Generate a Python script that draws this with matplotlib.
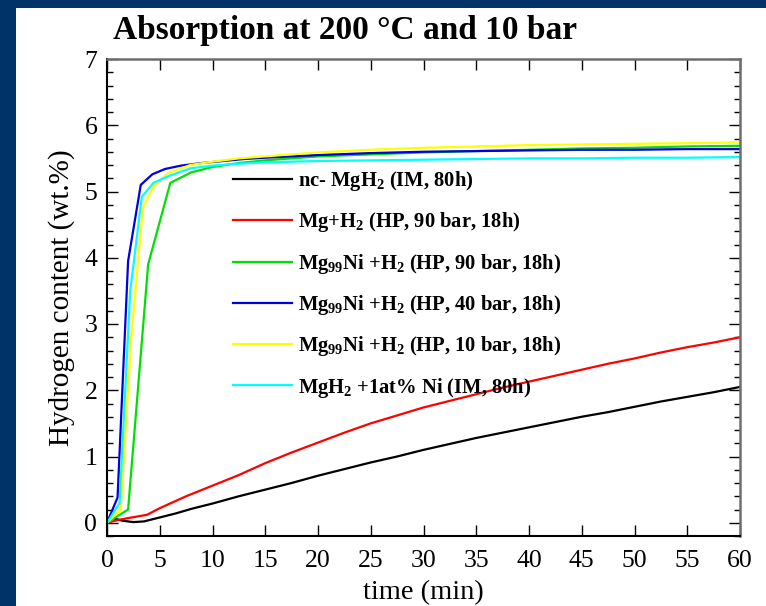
import matplotlib
matplotlib.use("Agg")
import matplotlib.pyplot as plt
from matplotlib.patches import Rectangle
from matplotlib.ticker import MultipleLocator

plt.rcParams["font.family"] = ["Liberation Serif", "DejaVu Serif"]
plt.rcParams["mathtext.fontset"] = "custom"
plt.rcParams["mathtext.rm"] = "Liberation Serif"
plt.rcParams["mathtext.bf"] = "Liberation Serif:bold"

# ---- data: hydrogen uptake (wt.%) versus time (min) ----
t_nc = [0, 0.5, 1.5, 2.5, 3.5, 5, 6.5, 8, 10, 12.5, 15, 17.5, 20, 22.5, 25, 27.5,
        30, 32.5, 35, 37.5, 40, 42.5, 45, 47.5, 50, 52.5, 55, 57.5, 60]
h_nc = [0.0, 0.07, 0.03, 0.01, 0.02, 0.08, 0.14, 0.21, 0.29, 0.40, 0.50, 0.60, 0.71,
        0.81, 0.91, 1.00, 1.10, 1.19, 1.28, 1.36, 1.44, 1.52, 1.60, 1.67, 1.75, 1.83,
        1.90, 1.97, 2.05]

t_mg = [0, 1, 2, 3.8, 5, 7.5, 10, 12.5, 15, 17.5, 20, 22.5, 25, 27.5, 30, 32.5, 35,
        37.5, 40, 42.5, 45, 47.5, 50, 52.5, 55, 57.5, 60]
h_mg = [0.0, 0.04, 0.07, 0.12, 0.22, 0.40, 0.56, 0.72, 0.90, 1.06, 1.21, 1.36, 1.50,
        1.62, 1.74, 1.84, 1.94, 2.04, 2.13, 2.22, 2.31, 2.40, 2.48, 2.57, 2.65, 2.72,
        2.80]

t_ni90 = [0, 1, 2, 3.9, 6, 8, 10, 12.5, 15, 17.5, 20, 25, 30, 35, 40, 45, 50, 55, 60]
h_ni90 = [0.0, 0.1, 0.2, 3.9, 5.13, 5.29, 5.37, 5.43, 5.47, 5.50, 5.53, 5.56, 5.59,
          5.61, 5.63, 5.65, 5.66, 5.68, 5.69]

t_ni40 = [0, 1, 2, 3.2, 4.3, 5.5, 7, 9, 11, 13, 15, 17.5, 20, 25, 30, 35, 40, 45,
          50, 55, 60]
h_ni40 = [0.0, 0.38, 3.95, 5.10, 5.26, 5.34, 5.39, 5.43, 5.46, 5.49, 5.51, 5.53,
          5.55, 5.58, 5.60, 5.61, 5.62, 5.63, 5.63, 5.64, 5.64]

t_ni10 = [0, 1.3, 2.3, 3.4, 4.4, 5.8, 7.9, 10, 12.5, 15, 17.5, 20, 25, 30, 35, 40,
          45, 50, 55, 60]
h_ni10 = [0.0, 0.2, 2.8, 4.75, 5.07, 5.28, 5.40, 5.45, 5.50, 5.53, 5.56, 5.59, 5.63,
          5.66, 5.68, 5.70, 5.71, 5.72, 5.73, 5.74]

t_im = [0, 1.2, 2.2, 3.3, 4.4, 5.8, 7.9, 10, 12.5, 15, 17.5, 20, 25, 30, 35, 40, 45,
        50, 55, 60]
h_im = [0.0, 0.3, 3.5, 4.92, 5.13, 5.23, 5.35, 5.39, 5.42, 5.44, 5.45, 5.46, 5.47,
        5.48, 5.49, 5.50, 5.50, 5.51, 5.51, 5.52]

series = [
    (t_nc, h_nc, "black", r"nc- MgH$_\mathbf{2}$ (IM, 80h)"),
    (t_mg, h_mg, "#ff0000", r"Mg+H$_\mathbf{2}$ (HP, 90 bar, 18h)"),
    (t_ni90, h_ni90, "#00e000", r"Mg$_\mathbf{99}$Ni +H$_\mathbf{2}$ (HP, 90 bar, 18h)"),
    (t_ni40, h_ni40, "#0000e0", r"Mg$_\mathbf{99}$Ni +H$_\mathbf{2}$ (HP, 40 bar, 18h)"),
    (t_ni10, h_ni10, "#ffff00", r"Mg$_\mathbf{99}$Ni +H$_\mathbf{2}$ (HP, 10 bar, 18h)"),
    (t_im, h_im, "#00ffff", r"MgH$_\mathbf{2}$ +1at% Ni (IM, 80h)"),
]

W, H = 766, 606
fig = plt.figure(figsize=(W / 100, H / 100), dpi=100)
fig.patch.set_facecolor("white")

# navy frame strips
navy = "#003468"
fig.patches.append(Rectangle((0, 0), 16 / W, 1, transform=fig.transFigure,
                             facecolor=navy, edgecolor="none", zorder=0))
fig.patches.append(Rectangle((0, 1 - 8 / H), 1, 8 / H, transform=fig.transFigure,
                             facecolor=navy, edgecolor="none", zorder=0))

ax = fig.add_axes([107 / W, 1 - 536 / H, (740 - 107) / W, (536 - 59) / H])
ax.set_facecolor("white")

for t, h, c, lab in series:
    ax.plot(t, h, color=c, lw=1.6, label=lab)

ax.set_xlim(0, 60)
ax.set_ylim(-0.2, 7)
ax.xaxis.set_major_locator(MultipleLocator(5))
ax.yaxis.set_major_locator(MultipleLocator(1))
ax.yaxis.set_minor_locator(MultipleLocator(0.2))
ax.tick_params(axis="both", which="major", direction="in", length=8, width=1,
               labelsize=18.5, top=True, right=True)
ax.tick_params(axis="x", which="major", pad=10)
ax.tick_params(axis="y", which="major", pad=7)
ax.tick_params(axis="y", which="minor", direction="in", length=4, width=1,
               left=True, right=True)
ax.tick_params(axis="x", which="minor", bottom=False, top=False)

for s in ("left", "bottom"):
    ax.spines[s].set_color("black")
    ax.spines[s].set_linewidth(1.5)
for s in ("top", "right"):
    ax.spines[s].set_color("#6e6e6e")
    ax.spines[s].set_linewidth(1.8)

ax.set_xlabel("time (min)", fontsize=20.5, labelpad=6)
ax.set_ylabel("Hydrogen content (wt.%)", fontsize=21, labelpad=7)

fig.text(113 / W, 1 - 30.5 / H, "Absorption at 200 °C and 10 bar",
         fontsize=24, fontweight="bold", va="center", ha="left")

leg = ax.legend(loc="upper left", bbox_to_anchor=(0.199, 0.769), frameon=False,
                prop={"weight": "bold", "size": 14.8}, handlelength=2.85,
                handletextpad=0.3, labelspacing=0.84, borderpad=0,
                borderaxespad=0)

fig.savefig("out.png", dpi=100, facecolor=fig.get_facecolor())
